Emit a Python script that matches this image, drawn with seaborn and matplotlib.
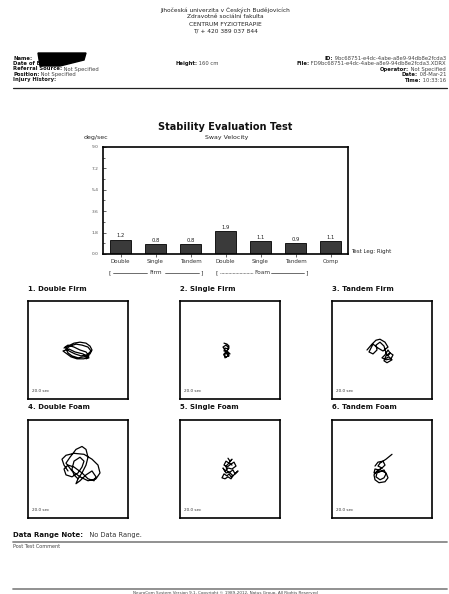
import matplotlib
matplotlib.use("Agg")
import matplotlib.pyplot as plt
import seaborn as sns
import pandas as pd
import numpy as np

sns.set_theme(style="white")
plt.rcParams['font.family'] = ['DejaVu Sans']

# ---------------- data ----------------
bar_labels = ["Double", "Single", "Tandem", "Double", "Single", "Tandem", "Comp"]
bar_values = [1.2, 0.8, 0.8, 1.9, 1.1, 0.9, 1.1]
y_ticks = [0.0, 1.8, 3.6, 5.4, 7.2, 9.0]

panel_titles = ["1. Double Firm", "2. Single Firm", "3. Tandem Firm",
                "4. Double Foam", "5. Single Foam", "6. Tandem Foam"]
duration_label = "20.0 sec"

# sway traces (in box units; box spans -50..50)
trace1_x = [-14, -8, -4, 2, 8, 12, 14, 12, 6, 0, -6, -10, -12, -8, -2, 4, 10, 13, 9, 3, -3, -9, -13, -10, -4, 2, 8, 11, 6, -1, -7, -11, -15, -9, -3, 5, 11, 8]
trace1_y = [2, 5, 7, 8, 7, 4, 0, -4, -7, -8, -6, -3, 1, 4, 6, 5, 3, -1, -5, -6, -4, -1, 3, 5, 3, 0, -2, -6, -9, -9, -7, -4, -1, 1, -2, -4, -8, -9]
trace2_x = [-6, -3, -1, -2, -5, -6, -2, 0, -3, -6, -4, -1, -2, -5, -7, -4, -1, -3, -6, -5, -2, -4]
trace2_y = [7, 6, 4, 1, 2, -1, -2, -4, -3, -5, -7, -6, -3, 0, 3, 5, 2, -1, -4, -8, -6, -2]
trace3_x = [-15, -10, -6, -2, 3, 6, 1, -4, -9, -13, -9, -5, -6, -2, 2, 4, 6, 8, 6, 3, 0, 4, 9, 11, 8, 4, 2, 5, 10, 7, 3]
trace3_y = [0, 6, 10, 11, 8, 3, -1, 2, 6, -2, -4, 0, 5, 8, 4, -3, -6, -3, 0, -5, -8, -10, -9, -5, -3, -6, -11, -13, -10, -7, -9]
trace4_x = [-10, -14, -16, -12, -4, 6, 14, 20, 22, 18, 10, 2, -6, -12, -8, -2, 4, 8, 10, 8, 4, 0, -2, 2, 8, 14, 18, 16, 10, 4, -4, -10, -14, -12, -6, 0, 4, 6, 2, -4, -6, -4, 0]
trace4_y = [-2, 4, 10, 14, 16, 15, 10, 4, -4, -10, -12, -8, -2, 6, 12, 20, 23, 20, 12, 4, -4, -10, -15, -12, -6, -2, -8, -12, -10, -4, 2, 4, 0, -6, -8, -4, 2, 8, 12, 8, 0, -6, -10]
trace5_x = [-2, 0, 2, -1, -4, -6, -3, 1, 4, 6, 2, -2, -5, -7, -4, 0, 3, 5, 8, 4, 1, -1, -3, -6, -8, -5, -2, 1, 3, 0, -3, -4, -1, 2]
trace5_y = [11, 8, 10, 6, 8, 4, 2, 5, 7, 3, 0, 1, -2, 1, -4, -3, -1, -5, -2, -6, -8, -5, -7, -5, -9, -10, -8, -10, -7, -4, -2, 3, 6, 4]
trace6_x = [10, 4, -2, -4, 0, -3, -7, -8, -4, 2, 4, 2, -2, -6, -5, 0, 4, 6, 3, -3, -7, -8, -5, 0, 3, 1, -4, -7]
trace6_y = [15, 10, 6, 3, 1, -1, 0, -4, -3, -1, -5, -9, -11, -8, -4, -2, -4, -9, -13, -14, -11, -6, -2, 1, 4, 8, 7, 3]

traces = [(trace1_x, trace1_y), (trace2_x, trace2_y), (trace3_x, trace3_y),
          (trace4_x, trace4_y), (trace5_x, trace5_y), (trace6_x, trace6_y)]

W, H = 449, 594
fig = plt.figure(figsize=(W / 100, H / 100), dpi=100)
fig.patch.set_facecolor("white")

# page axes in pixel coordinates
page = fig.add_axes([0, 0, 1, 1], zorder=-1)
page.set_xlim(0, W)
page.set_ylim(H, 0)
page.axis("off")

def px_axes(x0, y0, x1, y1):
    return fig.add_axes([x0 / W, 1 - y1 / H, (x1 - x0) / W, (y1 - y0) / H])

# ---------------- header ----------------
hdr = ["Jihočeská univerzita v Českých Budějovicích", "Zdravotně sociální fakulta",
       "CENTRUM FYZIOTERAPIE", "T/ + 420 389 037 844"]
for i, s in enumerate(hdr):
    page.text(225, 10 + i * 7, s, ha="center", va="center", fontsize=4.2, color="#222")

fs_info = 3.8
left_rows = [("Name:", ""), ("Date of Birth:", ""), ("Referral Source:", " Not Specified"),
             ("Position:", " Not Specified"), ("Injury History:", "")]
for i, (lab, val) in enumerate(left_rows):
    t = page.text(13, 58 + i * 5.5, lab, ha="left", va="center", fontsize=fs_info,
                  fontweight="bold", color="#111")
    if val:
        page.annotate(val, xy=(1, 0.5), xycoords=t, ha="left", va="center",
                      fontsize=fs_info, color="#444")
# redaction blob
page.fill([38, 86, 84, 60, 40], [53, 53, 60, 66, 66], color="black", zorder=5)

t = page.text(175, 63.5, "Height:", ha="left", va="center", fontsize=fs_info,
              fontweight="bold", color="#111")
page.annotate(" 160 cm", xy=(1, 0.5), xycoords=t, ha="left", va="center",
              fontsize=fs_info, color="#444")

right_rows = [("ID:", " 9bc68751-e4dc-4abe-a8e9-94db8e2fcda3"),
              ("File:", " FD9bc68751-e4dc-4abe-a8e9-94db8e2fcda3.XDRX"),
              ("Operator:", " Not Specified"), ("Date:", " 08-Mar-21"),
              ("Time:", " 10:33:16")]
for i, (lab, val) in enumerate(right_rows):
    v = page.text(446, 58 + i * 5.5, val, ha="right", va="center", fontsize=fs_info, color="#444")
    page.annotate(lab, xy=(0, 0.5), xycoords=v, ha="right", va="center",
                  fontsize=fs_info, fontweight="bold", color="#111")

page.plot([13, 447], [88, 88], color="#222", lw=0.9)

# ---------------- bar chart ----------------
page.text(225, 127, "Stability Evaluation Test", ha="center", va="center",
          fontsize=7, fontweight="bold", color="#111")
page.text(96, 138, "deg/sec", ha="center", va="center", fontsize=4.5, color="#222")
page.text(227, 138, "Sway Velocity", ha="center", va="center", fontsize=4.5, color="#222")

bx = px_axes(103, 147, 348, 254)
df = pd.DataFrame({"pos": [str(i) for i in range(len(bar_values))], "value": bar_values})
sns.barplot(data=df, x="pos", y="value", color="#3a3a3a", edgecolor="black",
            linewidth=0.6, width=0.58, saturation=1, ax=bx)
bx.set_ylim(0, 9.0)
bx.set_yticks(y_ticks)
bx.set_yticklabels([f"{v:.1f}" for v in y_ticks], fontsize=3.2, color="#555")
bx.set_yticks([0.9, 2.7, 4.5, 6.3, 8.1], minor=True)
bx.set_xticks(range(len(bar_labels)))
bx.set_xticklabels(bar_labels, fontsize=4, color="#333")
bx.tick_params(axis="y", which="both", direction="in", length=2, width=0.5, pad=3, left=True)
bx.tick_params(axis="y", which="minor", length=1.2)
bx.tick_params(axis="x", direction="out", length=2, width=0.5, pad=1.5, bottom=True)
bx.set_xlabel("")
bx.set_ylabel("")
for sp in bx.spines.values():
    sp.set_visible(True)
    sp.set_linewidth(1.2)
    sp.set_color("black")
for c in bx.containers:
    bx.bar_label(c, fmt="%.1f", fontsize=3.8, padding=1, color="#222")

page.text(351, 252, "Test Leg: Right", ha="left", va="center", fontsize=4, color="#222")

# brackets
def bracket(x0, x1, label, dotted_left=False):
    xm = (x0 + x1) / 2
    y = 273
    page.text(x0, y, "[", ha="center", va="center", fontsize=4.5, color="#333")
    page.text(x1, y, "]", ha="center", va="center", fontsize=4.5, color="#333")
    page.text(xm, y, label, ha="center", va="center", fontsize=4.2, color="#333")
    page.plot([x0 + 3, xm - 9], [y, y], color="#333", lw=0.5,
              ls=(0, (1, 1)) if dotted_left else "-")
    page.plot([xm + 9, x1 - 3], [y, y], color="#333", lw=0.5)

bracket(110, 202, "Firm")
bracket(217, 307, "Foam", dotted_left=True)

# ---------------- sway panels ----------------
cols = [28, 180, 332]
rows = [(289, 301, 399), (407, 420, 518)]
for k, (title, (tx, ty)) in enumerate(zip(panel_titles, traces)):
    r, c = divmod(k, 3)
    ty_title, y0, y1 = rows[r]
    x0 = cols[c]
    page.text(x0, ty_title, title, ha="left", va="center", fontsize=5,
              fontweight="bold", color="#111")
    ax = px_axes(x0, y0, x0 + 100, y1)
    tdf = pd.DataFrame({"x": tx, "y": ty})
    sns.lineplot(data=tdf, x="x", y="y", sort=False, estimator=None,
                 color="black", lw=0.9, ax=ax)
    ax.set_xlim(-50, 50)
    ax.set_ylim(-50, 50)
    ax.set_xticks([])
    ax.set_yticks([])
    ax.set_xlabel("")
    ax.set_ylabel("")
    for sp in ax.spines.values():
        sp.set_visible(True)
        sp.set_linewidth(1.2)
        sp.set_color("black")
    ax.text(0.04, 0.08, duration_label, transform=ax.transAxes, fontsize=3,
            ha="left", va="center", color="#333")

# ---------------- footer ----------------
t = page.text(13, 535, "Data Range Note:", ha="left", va="center", fontsize=5,
              fontweight="bold", color="#111")
page.annotate("   No Data Range.", xy=(1, 0.5), xycoords=t, ha="left", va="center",
              fontsize=4.8, color="#333")
page.plot([13, 447], [542, 542], color="#888", lw=1.3)
page.text(13, 547, "Post Test Comment", ha="left", va="center", fontsize=3.5, color="#444")
page.plot([13, 447], [589, 589], color="#888", lw=1.3)
page.text(225, 593, "NeuroCom System Version 9.1, Copyright © 1989-2012, Natus Group, All Rights Reserved",
          ha="center", va="center", fontsize=3, color="#444")

fig.savefig("out.png", dpi=100, facecolor="white")
